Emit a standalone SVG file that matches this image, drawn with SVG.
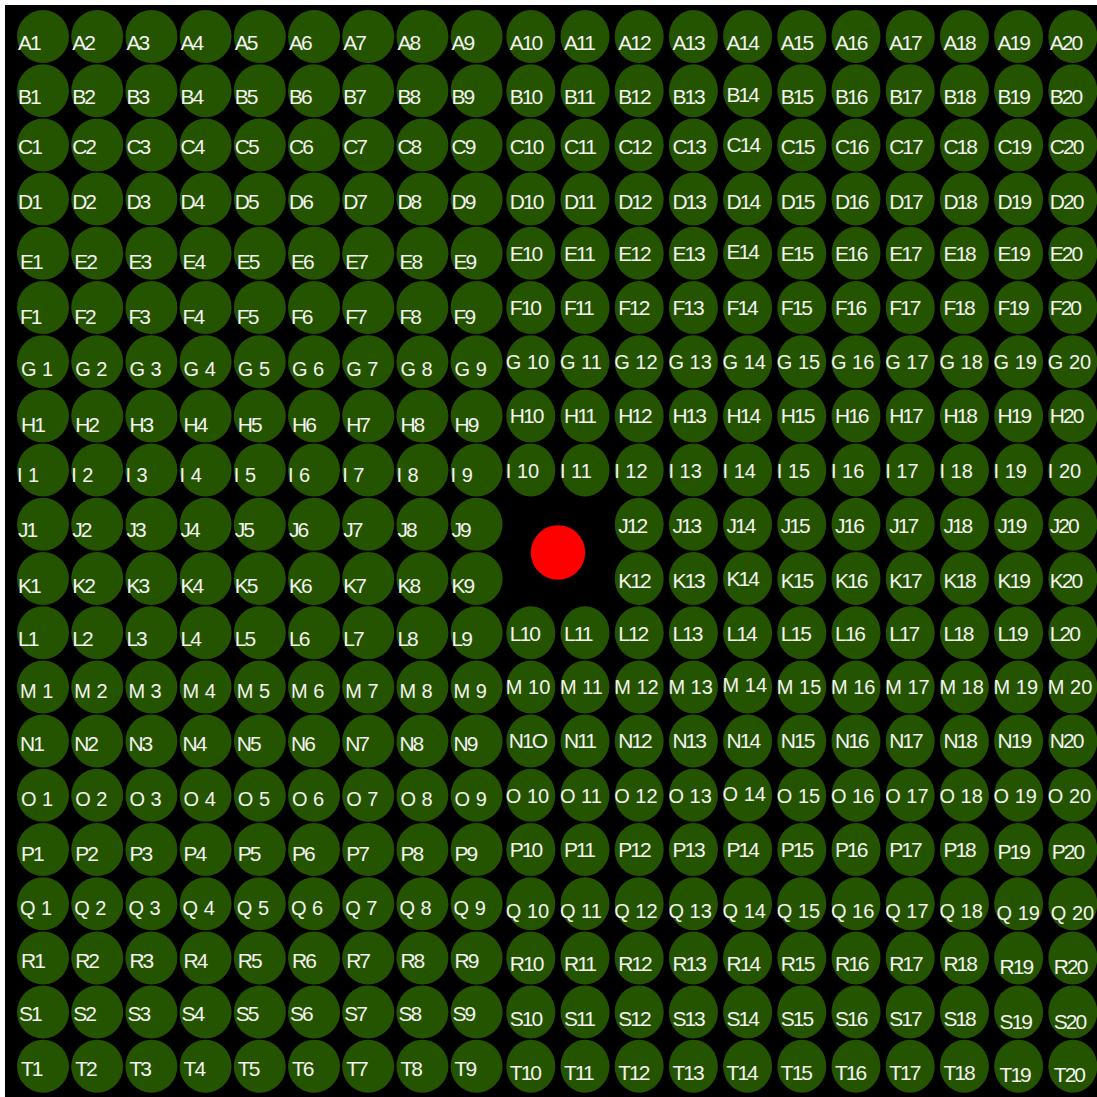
<svg xmlns="http://www.w3.org/2000/svg" xmlns:xlink="http://www.w3.org/1999/xlink" width="1097" height="1097" viewBox="0 0 1097 1097">
<style>
.c{fill:#255400}
text{font-family:"Liberation Sans",Arial,sans-serif;font-size:21px;letter-spacing:-2px;fill:#f2f2f2}
text.s{font-size:20px;letter-spacing:0}
</style>
<defs>
<ellipse id="L" class="c" rx="26" ry="26.5"/>
<ellipse id="R" class="c" rx="24.5" ry="26.5"/>
</defs>
<rect x="0" y="0" width="1097" height="1097" fill="#ffffff"/>
<rect x="5" y="5" width="1092" height="1092" fill="#000000"/>
<g id="connectors"></g>
<g id="rowA">
<g id="A1" transform="translate(43 36.5)"><use href="#L"/><text x="-25" y="13.5">A1</text></g>
<g id="A2" transform="translate(97.2 36.5)"><use href="#L"/><text x="-25" y="13.5">A2</text></g>
<g id="A3" transform="translate(151.4 36.5)"><use href="#L"/><text x="-25" y="13.5">A3</text></g>
<g id="A4" transform="translate(205.6 36.5)"><use href="#L"/><text x="-25" y="13.5">A4</text></g>
<g id="A5" transform="translate(259.8 36.5)"><use href="#L"/><text x="-25" y="13.5">A5</text></g>
<g id="A6" transform="translate(314 36.5)"><use href="#L"/><text x="-25" y="13.5">A6</text></g>
<g id="A7" transform="translate(368.2 36.5)"><use href="#L"/><text x="-25" y="13.5">A7</text></g>
<g id="A8" transform="translate(422.4 36.5)"><use href="#L"/><text x="-25" y="13.5">A8</text></g>
<g id="A9" transform="translate(476.6 36.5)"><use href="#L"/><text x="-25" y="13.5">A9</text></g>
<g id="A10" transform="translate(530.8 36.5)"><use href="#R"/><text x="-21" y="13.5">A10</text></g>
<g id="A11" transform="translate(585 36.5)"><use href="#R"/><text x="-21" y="13.5">A11</text></g>
<g id="A12" transform="translate(639.2 36.5)"><use href="#R"/><text x="-21" y="13.5">A12</text></g>
<g id="A13" transform="translate(693.4 36.5)"><use href="#R"/><text x="-21" y="13.5">A13</text></g>
<g id="A14" transform="translate(747.6 36.5)"><use href="#R"/><text x="-21" y="13.5">A14</text></g>
<g id="A15" transform="translate(801.8 36.5)"><use href="#R"/><text x="-21" y="13.5">A15</text></g>
<g id="A16" transform="translate(856 36.5)"><use href="#R"/><text x="-21" y="13.5">A16</text></g>
<g id="A17" transform="translate(910.2 36.5)"><use href="#R"/><text x="-21" y="13.5">A17</text></g>
<g id="A18" transform="translate(964.4 36.5)"><use href="#R"/><text x="-21" y="13.5">A18</text></g>
<g id="A19" transform="translate(1018.6 36.5)"><use href="#R"/><text x="-21" y="13.5">A19</text></g>
<g id="A20" transform="translate(1072.8 36.5)"><use href="#R"/><text x="-23" y="13.5">A20</text></g>
</g>
<g id="rowB">
<g id="B1" transform="translate(43 90.7)"><use href="#L"/><text x="-25" y="13.3">B1</text></g>
<g id="B2" transform="translate(97.2 90.7)"><use href="#L"/><text x="-25" y="13.3">B2</text></g>
<g id="B3" transform="translate(151.4 90.7)"><use href="#L"/><text x="-25" y="13.3">B3</text></g>
<g id="B4" transform="translate(205.6 90.7)"><use href="#L"/><text x="-25" y="13.3">B4</text></g>
<g id="B5" transform="translate(259.8 90.7)"><use href="#L"/><text x="-25" y="13.3">B5</text></g>
<g id="B6" transform="translate(314 90.7)"><use href="#L"/><text x="-25" y="13.3">B6</text></g>
<g id="B7" transform="translate(368.2 90.7)"><use href="#L"/><text x="-25" y="13.3">B7</text></g>
<g id="B8" transform="translate(422.4 90.7)"><use href="#L"/><text x="-25" y="13.3">B8</text></g>
<g id="B9" transform="translate(476.6 90.7)"><use href="#L"/><text x="-25" y="13.3">B9</text></g>
<g id="B10" transform="translate(530.8 90.7)"><use href="#R"/><text x="-21" y="13">B10</text></g>
<g id="B11" transform="translate(585 90.7)"><use href="#R"/><text x="-21" y="13">B11</text></g>
<g id="B12" transform="translate(639.2 90.7)"><use href="#R"/><text x="-21" y="13">B12</text></g>
<g id="B13" transform="translate(693.4 90.7)"><use href="#R"/><text x="-21" y="13">B13</text></g>
<g id="B14" transform="translate(747.6 90.7)"><use href="#R"/><text x="-21" y="11">B14</text></g>
<g id="B15" transform="translate(801.8 90.7)"><use href="#R"/><text x="-21" y="13">B15</text></g>
<g id="B16" transform="translate(856 90.7)"><use href="#R"/><text x="-21" y="13">B16</text></g>
<g id="B17" transform="translate(910.2 90.7)"><use href="#R"/><text x="-21" y="13">B17</text></g>
<g id="B18" transform="translate(964.4 90.7)"><use href="#R"/><text x="-21" y="13">B18</text></g>
<g id="B19" transform="translate(1018.6 90.7)"><use href="#R"/><text x="-21" y="13">B19</text></g>
<g id="B20" transform="translate(1072.8 90.7)"><use href="#R"/><text x="-23" y="13">B20</text></g>
</g>
<g id="rowC">
<g id="C1" transform="translate(43 144.9)"><use href="#L"/><text x="-25" y="9.5">C1</text></g>
<g id="C2" transform="translate(97.2 144.9)"><use href="#L"/><text x="-25" y="9.5">C2</text></g>
<g id="C3" transform="translate(151.4 144.9)"><use href="#L"/><text x="-25" y="9.5">C3</text></g>
<g id="C4" transform="translate(205.6 144.9)"><use href="#L"/><text x="-25" y="9.5">C4</text></g>
<g id="C5" transform="translate(259.8 144.9)"><use href="#L"/><text x="-25" y="9.5">C5</text></g>
<g id="C6" transform="translate(314 144.9)"><use href="#L"/><text x="-25" y="9.5">C6</text></g>
<g id="C7" transform="translate(368.2 144.9)"><use href="#L"/><text x="-25" y="9.5">C7</text></g>
<g id="C8" transform="translate(422.4 144.9)"><use href="#L"/><text x="-25" y="9.5">C8</text></g>
<g id="C9" transform="translate(476.6 144.9)"><use href="#L"/><text x="-25" y="9.5">C9</text></g>
<g id="C10" transform="translate(530.8 144.9)"><use href="#R"/><text x="-21" y="9.5">C10</text></g>
<g id="C11" transform="translate(585 144.9)"><use href="#R"/><text x="-21" y="9.5">C11</text></g>
<g id="C12" transform="translate(639.2 144.9)"><use href="#R"/><text x="-21" y="9.5">C12</text></g>
<g id="C13" transform="translate(693.4 144.9)"><use href="#R"/><text x="-21" y="9.5">C13</text></g>
<g id="C14" transform="translate(747.6 144.9)"><use href="#R"/><text x="-21" y="7.5">C14</text></g>
<g id="C15" transform="translate(801.8 144.9)"><use href="#R"/><text x="-21" y="9.5">C15</text></g>
<g id="C16" transform="translate(856 144.9)"><use href="#R"/><text x="-21" y="9.5">C16</text></g>
<g id="C17" transform="translate(910.2 144.9)"><use href="#R"/><text x="-21" y="9.5">C17</text></g>
<g id="C18" transform="translate(964.4 144.9)"><use href="#R"/><text x="-21" y="9.5">C18</text></g>
<g id="C19" transform="translate(1018.6 144.9)"><use href="#R"/><text x="-21" y="9.5">C19</text></g>
<g id="C20" transform="translate(1072.8 144.9)"><use href="#R"/><text x="-23" y="9.5">C20</text></g>
</g>
<g id="rowD">
<g id="D1" transform="translate(43 199.1)"><use href="#L"/><text x="-25" y="9.4">D1</text></g>
<g id="D2" transform="translate(97.2 199.1)"><use href="#L"/><text x="-25" y="9.4">D2</text></g>
<g id="D3" transform="translate(151.4 199.1)"><use href="#L"/><text x="-25" y="9.4">D3</text></g>
<g id="D4" transform="translate(205.6 199.1)"><use href="#L"/><text x="-25" y="9.4">D4</text></g>
<g id="D5" transform="translate(259.8 199.1)"><use href="#L"/><text x="-25" y="9.4">D5</text></g>
<g id="D6" transform="translate(314 199.1)"><use href="#L"/><text x="-25" y="9.4">D6</text></g>
<g id="D7" transform="translate(368.2 199.1)"><use href="#L"/><text x="-25" y="9.4">D7</text></g>
<g id="D8" transform="translate(422.4 199.1)"><use href="#L"/><text x="-25" y="9.4">D8</text></g>
<g id="D9" transform="translate(476.6 199.1)"><use href="#L"/><text x="-25" y="9.4">D9</text></g>
<g id="D10" transform="translate(530.8 199.1)"><use href="#R"/><text x="-21" y="9.4">D10</text></g>
<g id="D11" transform="translate(585 199.1)"><use href="#R"/><text x="-21" y="9.4">D11</text></g>
<g id="D12" transform="translate(639.2 199.1)"><use href="#R"/><text x="-21" y="9.4">D12</text></g>
<g id="D13" transform="translate(693.4 199.1)"><use href="#R"/><text x="-21" y="9.4">D13</text></g>
<g id="D14" transform="translate(747.6 199.1)"><use href="#R"/><text x="-21" y="9.4">D14</text></g>
<g id="D15" transform="translate(801.8 199.1)"><use href="#R"/><text x="-21" y="9.4">D15</text></g>
<g id="D16" transform="translate(856 199.1)"><use href="#R"/><text x="-21" y="9.4">D16</text></g>
<g id="D17" transform="translate(910.2 199.1)"><use href="#R"/><text x="-21" y="9.4">D17</text></g>
<g id="D18" transform="translate(964.4 199.1)"><use href="#R"/><text x="-21" y="9.4">D18</text></g>
<g id="D19" transform="translate(1018.6 199.1)"><use href="#R"/><text x="-21" y="9.4">D19</text></g>
<g id="D20" transform="translate(1072.8 199.1)"><use href="#R"/><text x="-23" y="9.4">D20</text></g>
</g>
<g id="rowE">
<g id="E1" transform="translate(43 253.3)"><use href="#L"/><text x="-23" y="15.7">E1</text></g>
<g id="E2" transform="translate(97.2 253.3)"><use href="#L"/><text x="-23" y="15.7">E2</text></g>
<g id="E3" transform="translate(151.4 253.3)"><use href="#L"/><text x="-23" y="15.7">E3</text></g>
<g id="E4" transform="translate(205.6 253.3)"><use href="#L"/><text x="-23" y="15.7">E4</text></g>
<g id="E5" transform="translate(259.8 253.3)"><use href="#L"/><text x="-23" y="15.7">E5</text></g>
<g id="E6" transform="translate(314 253.3)"><use href="#L"/><text x="-23" y="15.7">E6</text></g>
<g id="E7" transform="translate(368.2 253.3)"><use href="#L"/><text x="-23" y="15.7">E7</text></g>
<g id="E8" transform="translate(422.4 253.3)"><use href="#L"/><text x="-23" y="15.7">E8</text></g>
<g id="E9" transform="translate(476.6 253.3)"><use href="#L"/><text x="-23" y="15.7">E9</text></g>
<g id="E10" transform="translate(530.8 253.3)"><use href="#R"/><text x="-21" y="7.7">E10</text></g>
<g id="E11" transform="translate(585 253.3)"><use href="#R"/><text x="-21" y="7.7">E11</text></g>
<g id="E12" transform="translate(639.2 253.3)"><use href="#R"/><text x="-21" y="7.7">E12</text></g>
<g id="E13" transform="translate(693.4 253.3)"><use href="#R"/><text x="-21" y="7.7">E13</text></g>
<g id="E14" transform="translate(747.6 253.3)"><use href="#R"/><text x="-21" y="5.5">E14</text></g>
<g id="E15" transform="translate(801.8 253.3)"><use href="#R"/><text x="-21" y="7.7">E15</text></g>
<g id="E16" transform="translate(856 253.3)"><use href="#R"/><text x="-21" y="7.7">E16</text></g>
<g id="E17" transform="translate(910.2 253.3)"><use href="#R"/><text x="-21" y="7.7">E17</text></g>
<g id="E18" transform="translate(964.4 253.3)"><use href="#R"/><text x="-21" y="7.7">E18</text></g>
<g id="E19" transform="translate(1018.6 253.3)"><use href="#R"/><text x="-21" y="7.7">E19</text></g>
<g id="E20" transform="translate(1072.8 253.3)"><use href="#R"/><text x="-23" y="7.7">E20</text></g>
</g>
<g id="rowF">
<g id="F1" transform="translate(43 307.5)"><use href="#L"/><text x="-23" y="16">F1</text></g>
<g id="F2" transform="translate(97.2 307.5)"><use href="#L"/><text x="-23" y="16">F2</text></g>
<g id="F3" transform="translate(151.4 307.5)"><use href="#L"/><text x="-23" y="16">F3</text></g>
<g id="F4" transform="translate(205.6 307.5)"><use href="#L"/><text x="-23" y="16">F4</text></g>
<g id="F5" transform="translate(259.8 307.5)"><use href="#L"/><text x="-23" y="16">F5</text></g>
<g id="F6" transform="translate(314 307.5)"><use href="#L"/><text x="-23" y="16">F6</text></g>
<g id="F7" transform="translate(368.2 307.5)"><use href="#L"/><text x="-23" y="16">F7</text></g>
<g id="F8" transform="translate(422.4 307.5)"><use href="#L"/><text x="-23" y="16">F8</text></g>
<g id="F9" transform="translate(476.6 307.5)"><use href="#L"/><text x="-23" y="16">F9</text></g>
<g id="F10" transform="translate(530.8 307.5)"><use href="#R"/><text x="-21" y="7">F10</text></g>
<g id="F11" transform="translate(585 307.5)"><use href="#R"/><text x="-21" y="7">F11</text></g>
<g id="F12" transform="translate(639.2 307.5)"><use href="#R"/><text x="-21" y="7">F12</text></g>
<g id="F13" transform="translate(693.4 307.5)"><use href="#R"/><text x="-21" y="7">F13</text></g>
<g id="F14" transform="translate(747.6 307.5)"><use href="#R"/><text x="-21" y="7">F14</text></g>
<g id="F15" transform="translate(801.8 307.5)"><use href="#R"/><text x="-21" y="7">F15</text></g>
<g id="F16" transform="translate(856 307.5)"><use href="#R"/><text x="-21" y="7">F16</text></g>
<g id="F17" transform="translate(910.2 307.5)"><use href="#R"/><text x="-21" y="7">F17</text></g>
<g id="F18" transform="translate(964.4 307.5)"><use href="#R"/><text x="-21" y="7">F18</text></g>
<g id="F19" transform="translate(1018.6 307.5)"><use href="#R"/><text x="-21" y="7">F19</text></g>
<g id="F20" transform="translate(1072.8 307.5)"><use href="#R"/><text x="-23" y="7">F20</text></g>
</g>
<g id="rowG">
<g id="G1" transform="translate(43 361.7)"><use href="#L"/><text class="s" x="-22" y="14.3">G 1</text></g>
<g id="G2" transform="translate(97.2 361.7)"><use href="#L"/><text class="s" x="-22" y="14.3">G 2</text></g>
<g id="G3" transform="translate(151.4 361.7)"><use href="#L"/><text class="s" x="-22" y="14.3">G 3</text></g>
<g id="G4" transform="translate(205.6 361.7)"><use href="#L"/><text class="s" x="-22" y="14.3">G 4</text></g>
<g id="G5" transform="translate(259.8 361.7)"><use href="#L"/><text class="s" x="-22" y="14.3">G 5</text></g>
<g id="G6" transform="translate(314 361.7)"><use href="#L"/><text class="s" x="-22" y="14.3">G 6</text></g>
<g id="G7" transform="translate(368.2 361.7)"><use href="#L"/><text class="s" x="-22" y="14.3">G 7</text></g>
<g id="G8" transform="translate(422.4 361.7)"><use href="#L"/><text class="s" x="-22" y="14.3">G 8</text></g>
<g id="G9" transform="translate(476.6 361.7)"><use href="#L"/><text class="s" x="-22" y="14.3">G 9</text></g>
<g id="G10" transform="translate(530.8 361.7)"><use href="#R"/><text class="s" x="-25" y="7.3">G 10</text></g>
<g id="G11" transform="translate(585 361.7)"><use href="#R"/><text class="s" x="-25" y="7.3">G 11</text></g>
<g id="G12" transform="translate(639.2 361.7)"><use href="#R"/><text class="s" x="-25" y="7.3">G 12</text></g>
<g id="G13" transform="translate(693.4 361.7)"><use href="#R"/><text class="s" x="-25" y="7.3">G 13</text></g>
<g id="G14" transform="translate(747.6 361.7)"><use href="#R"/><text class="s" x="-25" y="7.3">G 14</text></g>
<g id="G15" transform="translate(801.8 361.7)"><use href="#R"/><text class="s" x="-25" y="7.3">G 15</text></g>
<g id="G16" transform="translate(856 361.7)"><use href="#R"/><text class="s" x="-25" y="7.3">G 16</text></g>
<g id="G17" transform="translate(910.2 361.7)"><use href="#R"/><text class="s" x="-25" y="7.3">G 17</text></g>
<g id="G18" transform="translate(964.4 361.7)"><use href="#R"/><text class="s" x="-25" y="7.3">G 18</text></g>
<g id="G19" transform="translate(1018.6 361.7)"><use href="#R"/><text class="s" x="-25" y="7.3">G 19</text></g>
<g id="G20" transform="translate(1072.8 361.7)"><use href="#R"/><text class="s" x="-25" y="7.3">G 20</text></g>
</g>
<g id="rowH">
<g id="H1" transform="translate(43 415.9)"><use href="#L"/><text x="-22" y="15.6">H1</text></g>
<g id="H2" transform="translate(97.2 415.9)"><use href="#L"/><text x="-22" y="15.6">H2</text></g>
<g id="H3" transform="translate(151.4 415.9)"><use href="#L"/><text x="-22" y="15.6">H3</text></g>
<g id="H4" transform="translate(205.6 415.9)"><use href="#L"/><text x="-22" y="15.6">H4</text></g>
<g id="H5" transform="translate(259.8 415.9)"><use href="#L"/><text x="-22" y="15.6">H5</text></g>
<g id="H6" transform="translate(314 415.9)"><use href="#L"/><text x="-22" y="15.6">H6</text></g>
<g id="H7" transform="translate(368.2 415.9)"><use href="#L"/><text x="-22" y="15.6">H7</text></g>
<g id="H8" transform="translate(422.4 415.9)"><use href="#L"/><text x="-22" y="15.6">H8</text></g>
<g id="H9" transform="translate(476.6 415.9)"><use href="#L"/><text x="-22" y="15.6">H9</text></g>
<g id="H10" transform="translate(530.8 415.9)"><use href="#R"/><text x="-21" y="6.6">H10</text></g>
<g id="H11" transform="translate(585 415.9)"><use href="#R"/><text x="-21" y="6.6">H11</text></g>
<g id="H12" transform="translate(639.2 415.9)"><use href="#R"/><text x="-21" y="6.6">H12</text></g>
<g id="H13" transform="translate(693.4 415.9)"><use href="#R"/><text x="-21" y="6.6">H13</text></g>
<g id="H14" transform="translate(747.6 415.9)"><use href="#R"/><text x="-21" y="6.6">H14</text></g>
<g id="H15" transform="translate(801.8 415.9)"><use href="#R"/><text x="-21" y="6.6">H15</text></g>
<g id="H16" transform="translate(856 415.9)"><use href="#R"/><text x="-21" y="6.6">H16</text></g>
<g id="H17" transform="translate(910.2 415.9)"><use href="#R"/><text x="-21" y="6.6">H17</text></g>
<g id="H18" transform="translate(964.4 415.9)"><use href="#R"/><text x="-21" y="6.6">H18</text></g>
<g id="H19" transform="translate(1018.6 415.9)"><use href="#R"/><text x="-21" y="6.6">H19</text></g>
<g id="H20" transform="translate(1072.8 415.9)"><use href="#R"/><text x="-23" y="6.6">H20</text></g>
</g>
<g id="rowI">
<g id="I1" transform="translate(43 470.1)"><use href="#L"/><text class="s" x="-26" y="11.6">I 1</text></g>
<g id="I2" transform="translate(97.2 470.1)"><use href="#L"/><text class="s" x="-26" y="11.6">I 2</text></g>
<g id="I3" transform="translate(151.4 470.1)"><use href="#L"/><text class="s" x="-26" y="11.6">I 3</text></g>
<g id="I4" transform="translate(205.6 470.1)"><use href="#L"/><text class="s" x="-26" y="11.6">I 4</text></g>
<g id="I5" transform="translate(259.8 470.1)"><use href="#L"/><text class="s" x="-26" y="11.6">I 5</text></g>
<g id="I6" transform="translate(314 470.1)"><use href="#L"/><text class="s" x="-26" y="11.6">I 6</text></g>
<g id="I7" transform="translate(368.2 470.1)"><use href="#L"/><text class="s" x="-26" y="11.6">I 7</text></g>
<g id="I8" transform="translate(422.4 470.1)"><use href="#L"/><text class="s" x="-26" y="11.6">I 8</text></g>
<g id="I9" transform="translate(476.6 470.1)"><use href="#L"/><text class="s" x="-26" y="11.6">I 9</text></g>
<g id="I10" transform="translate(530.8 470.1)"><use href="#R"/><text class="s" x="-25" y="7.9">I 10</text></g>
<g id="I11" transform="translate(585 470.1)"><use href="#R"/><text class="s" x="-25" y="7.9">I 11</text></g>
<g id="I12" transform="translate(639.2 470.1)"><use href="#R"/><text class="s" x="-25" y="7.9">I 12</text></g>
<g id="I13" transform="translate(693.4 470.1)"><use href="#R"/><text class="s" x="-25" y="7.9">I 13</text></g>
<g id="I14" transform="translate(747.6 470.1)"><use href="#R"/><text class="s" x="-25" y="7.9">I 14</text></g>
<g id="I15" transform="translate(801.8 470.1)"><use href="#R"/><text class="s" x="-25" y="7.9">I 15</text></g>
<g id="I16" transform="translate(856 470.1)"><use href="#R"/><text class="s" x="-25" y="7.9">I 16</text></g>
<g id="I17" transform="translate(910.2 470.1)"><use href="#R"/><text class="s" x="-25" y="7.9">I 17</text></g>
<g id="I18" transform="translate(964.4 470.1)"><use href="#R"/><text class="s" x="-25" y="7.9">I 18</text></g>
<g id="I19" transform="translate(1018.6 470.1)"><use href="#R"/><text class="s" x="-25" y="7.9">I 19</text></g>
<g id="I20" transform="translate(1072.8 470.1)"><use href="#R"/><text class="s" x="-25" y="7.9">I 20</text></g>
</g>
<g id="rowJ">
<g id="J1" transform="translate(43 524.3)"><use href="#L"/><text x="-25" y="12.2">J1</text></g>
<g id="J2" transform="translate(97.2 524.3)"><use href="#L"/><text x="-25" y="12.2">J2</text></g>
<g id="J3" transform="translate(151.4 524.3)"><use href="#L"/><text x="-25" y="12.2">J3</text></g>
<g id="J4" transform="translate(205.6 524.3)"><use href="#L"/><text x="-25" y="12.2">J4</text></g>
<g id="J5" transform="translate(259.8 524.3)"><use href="#L"/><text x="-25" y="12.2">J5</text></g>
<g id="J6" transform="translate(314 524.3)"><use href="#L"/><text x="-25" y="12.2">J6</text></g>
<g id="J7" transform="translate(368.2 524.3)"><use href="#L"/><text x="-25" y="12.2">J7</text></g>
<g id="J8" transform="translate(422.4 524.3)"><use href="#L"/><text x="-25" y="12.2">J8</text></g>
<g id="J9" transform="translate(476.6 524.3)"><use href="#L"/><text x="-25" y="12.2">J9</text></g>
<g id="J12" transform="translate(639.2 524.3)"><use href="#R"/><text x="-21" y="8.2">J12</text></g>
<g id="J13" transform="translate(693.4 524.3)"><use href="#R"/><text x="-21" y="8.2">J13</text></g>
<g id="J14" transform="translate(747.6 524.3)"><use href="#R"/><text x="-21" y="8.2">J14</text></g>
<g id="J15" transform="translate(801.8 524.3)"><use href="#R"/><text x="-21" y="8.2">J15</text></g>
<g id="J16" transform="translate(856 524.3)"><use href="#R"/><text x="-21" y="8.2">J16</text></g>
<g id="J17" transform="translate(910.2 524.3)"><use href="#R"/><text x="-21" y="8.2">J17</text></g>
<g id="J18" transform="translate(964.4 524.3)"><use href="#R"/><text x="-21" y="8.2">J18</text></g>
<g id="J19" transform="translate(1018.6 524.3)"><use href="#R"/><text x="-21" y="8.2">J19</text></g>
<g id="J20" transform="translate(1072.8 524.3)"><use href="#R"/><text x="-23" y="8.2">J20</text></g>
</g>
<g id="rowK">
<g id="K1" transform="translate(43 578.5)"><use href="#L"/><text x="-25" y="14">K1</text></g>
<g id="K2" transform="translate(97.2 578.5)"><use href="#L"/><text x="-25" y="14">K2</text></g>
<g id="K3" transform="translate(151.4 578.5)"><use href="#L"/><text x="-25" y="14">K3</text></g>
<g id="K4" transform="translate(205.6 578.5)"><use href="#L"/><text x="-25" y="14">K4</text></g>
<g id="K5" transform="translate(259.8 578.5)"><use href="#L"/><text x="-25" y="14">K5</text></g>
<g id="K6" transform="translate(314 578.5)"><use href="#L"/><text x="-25" y="14">K6</text></g>
<g id="K7" transform="translate(368.2 578.5)"><use href="#L"/><text x="-25" y="14">K7</text></g>
<g id="K8" transform="translate(422.4 578.5)"><use href="#L"/><text x="-25" y="14">K8</text></g>
<g id="K9" transform="translate(476.6 578.5)"><use href="#L"/><text x="-25" y="14">K9</text></g>
<g id="K12" transform="translate(639.2 578.5)"><use href="#R"/><text x="-21" y="9">K12</text></g>
<g id="K13" transform="translate(693.4 578.5)"><use href="#R"/><text x="-21" y="9">K13</text></g>
<g id="K14" transform="translate(747.6 578.5)"><use href="#R"/><text x="-21" y="7">K14</text></g>
<g id="K15" transform="translate(801.8 578.5)"><use href="#R"/><text x="-21" y="9">K15</text></g>
<g id="K16" transform="translate(856 578.5)"><use href="#R"/><text x="-21" y="9">K16</text></g>
<g id="K17" transform="translate(910.2 578.5)"><use href="#R"/><text x="-21" y="9">K17</text></g>
<g id="K18" transform="translate(964.4 578.5)"><use href="#R"/><text x="-21" y="9">K18</text></g>
<g id="K19" transform="translate(1018.6 578.5)"><use href="#R"/><text x="-21" y="9">K19</text></g>
<g id="K20" transform="translate(1072.8 578.5)"><use href="#R"/><text x="-23" y="9">K20</text></g>
</g>
<g id="rowL">
<g id="L1" transform="translate(43 632.7)"><use href="#L"/><text x="-25" y="12.8">L1</text></g>
<g id="L2" transform="translate(97.2 632.7)"><use href="#L"/><text x="-25" y="12.8">L2</text></g>
<g id="L3" transform="translate(151.4 632.7)"><use href="#L"/><text x="-25" y="12.8">L3</text></g>
<g id="L4" transform="translate(205.6 632.7)"><use href="#L"/><text x="-25" y="12.8">L4</text></g>
<g id="L5" transform="translate(259.8 632.7)"><use href="#L"/><text x="-25" y="12.8">L5</text></g>
<g id="L6" transform="translate(314 632.7)"><use href="#L"/><text x="-25" y="12.8">L6</text></g>
<g id="L7" transform="translate(368.2 632.7)"><use href="#L"/><text x="-25" y="12.8">L7</text></g>
<g id="L8" transform="translate(422.4 632.7)"><use href="#L"/><text x="-25" y="12.8">L8</text></g>
<g id="L9" transform="translate(476.6 632.7)"><use href="#L"/><text x="-25" y="12.8">L9</text></g>
<g id="L10" transform="translate(530.8 632.7)"><use href="#R"/><text x="-21" y="8.5">L10</text></g>
<g id="L11" transform="translate(585 632.7)"><use href="#R"/><text x="-21" y="8.5">L11</text></g>
<g id="L12" transform="translate(639.2 632.7)"><use href="#R"/><text x="-21" y="7.8">L12</text></g>
<g id="L13" transform="translate(693.4 632.7)"><use href="#R"/><text x="-21" y="7.8">L13</text></g>
<g id="L14" transform="translate(747.6 632.7)"><use href="#R"/><text x="-21" y="7.8">L14</text></g>
<g id="L15" transform="translate(801.8 632.7)"><use href="#R"/><text x="-21" y="7.8">L15</text></g>
<g id="L16" transform="translate(856 632.7)"><use href="#R"/><text x="-21" y="7.8">L16</text></g>
<g id="L17" transform="translate(910.2 632.7)"><use href="#R"/><text x="-21" y="7.8">L17</text></g>
<g id="L18" transform="translate(964.4 632.7)"><use href="#R"/><text x="-21" y="7.8">L18</text></g>
<g id="L19" transform="translate(1018.6 632.7)"><use href="#R"/><text x="-21" y="7.8">L19</text></g>
<g id="L20" transform="translate(1072.8 632.7)"><use href="#R"/><text x="-23" y="7.8">L20</text></g>
</g>
<g id="rowM">
<g id="M1" transform="translate(43 686.9)"><use href="#L"/><text class="s" x="-23" y="10.6">M 1</text></g>
<g id="M2" transform="translate(97.2 686.9)"><use href="#L"/><text class="s" x="-23" y="10.6">M 2</text></g>
<g id="M3" transform="translate(151.4 686.9)"><use href="#L"/><text class="s" x="-23" y="10.6">M 3</text></g>
<g id="M4" transform="translate(205.6 686.9)"><use href="#L"/><text class="s" x="-23" y="10.6">M 4</text></g>
<g id="M5" transform="translate(259.8 686.9)"><use href="#L"/><text class="s" x="-23" y="10.6">M 5</text></g>
<g id="M6" transform="translate(314 686.9)"><use href="#L"/><text class="s" x="-23" y="10.6">M 6</text></g>
<g id="M7" transform="translate(368.2 686.9)"><use href="#L"/><text class="s" x="-23" y="10.6">M 7</text></g>
<g id="M8" transform="translate(422.4 686.9)"><use href="#L"/><text class="s" x="-23" y="10.6">M 8</text></g>
<g id="M9" transform="translate(476.6 686.9)"><use href="#L"/><text class="s" x="-23" y="10.6">M 9</text></g>
<g id="M10" transform="translate(530.8 686.9)"><use href="#R"/><text class="s" x="-25" y="6.6">M 10</text></g>
<g id="M11" transform="translate(585 686.9)"><use href="#R"/><text class="s" x="-25" y="6.6">M 11</text></g>
<g id="M12" transform="translate(639.2 686.9)"><use href="#R"/><text class="s" x="-25" y="6.6">M 12</text></g>
<g id="M13" transform="translate(693.4 686.9)"><use href="#R"/><text class="s" x="-25" y="6.6">M 13</text></g>
<g id="M14" transform="translate(747.6 686.9)"><use href="#R"/><text class="s" x="-25" y="5">M 14</text></g>
<g id="M15" transform="translate(801.8 686.9)"><use href="#R"/><text class="s" x="-25" y="6.6">M 15</text></g>
<g id="M16" transform="translate(856 686.9)"><use href="#R"/><text class="s" x="-25" y="6.6">M 16</text></g>
<g id="M17" transform="translate(910.2 686.9)"><use href="#R"/><text class="s" x="-25" y="6.6">M 17</text></g>
<g id="M18" transform="translate(964.4 686.9)"><use href="#R"/><text class="s" x="-25" y="6.6">M 18</text></g>
<g id="M19" transform="translate(1018.6 686.9)"><use href="#R"/><text class="s" x="-25" y="6.6">M 19</text></g>
<g id="M20" transform="translate(1072.8 686.9)"><use href="#R"/><text class="s" x="-25" y="6.6">M 20</text></g>
</g>
<g id="rowN">
<g id="N1" transform="translate(43 741.1)"><use href="#L"/><text x="-23" y="9.4">N1</text></g>
<g id="N2" transform="translate(97.2 741.1)"><use href="#L"/><text x="-23" y="9.4">N2</text></g>
<g id="N3" transform="translate(151.4 741.1)"><use href="#L"/><text x="-23" y="9.4">N3</text></g>
<g id="N4" transform="translate(205.6 741.1)"><use href="#L"/><text x="-23" y="9.4">N4</text></g>
<g id="N5" transform="translate(259.8 741.1)"><use href="#L"/><text x="-23" y="9.4">N5</text></g>
<g id="N6" transform="translate(314 741.1)"><use href="#L"/><text x="-23" y="9.4">N6</text></g>
<g id="N7" transform="translate(368.2 741.1)"><use href="#L"/><text x="-23" y="9.4">N7</text></g>
<g id="N8" transform="translate(422.4 741.1)"><use href="#L"/><text x="-23" y="9.4">N8</text></g>
<g id="N9" transform="translate(476.6 741.1)"><use href="#L"/><text x="-23" y="9.4">N9</text></g>
<g id="N10" transform="translate(530.8 741.1)"><use href="#R"/><text x="-22" y="6.4">N1O</text></g>
<g id="N11" transform="translate(585 741.1)"><use href="#R"/><text x="-21" y="6.4">N11</text></g>
<g id="N12" transform="translate(639.2 741.1)"><use href="#R"/><text x="-21" y="6.4">N12</text></g>
<g id="N13" transform="translate(693.4 741.1)"><use href="#R"/><text x="-21" y="6.4">N13</text></g>
<g id="N14" transform="translate(747.6 741.1)"><use href="#R"/><text x="-21" y="6.4">N14</text></g>
<g id="N15" transform="translate(801.8 741.1)"><use href="#R"/><text x="-21" y="6.4">N15</text></g>
<g id="N16" transform="translate(856 741.1)"><use href="#R"/><text x="-21" y="6.4">N16</text></g>
<g id="N17" transform="translate(910.2 741.1)"><use href="#R"/><text x="-21" y="6.4">N17</text></g>
<g id="N18" transform="translate(964.4 741.1)"><use href="#R"/><text x="-21" y="6.4">N18</text></g>
<g id="N19" transform="translate(1018.6 741.1)"><use href="#R"/><text x="-21" y="6.4">N19</text></g>
<g id="N20" transform="translate(1072.8 741.1)"><use href="#R"/><text x="-23" y="6.4">N20</text></g>
</g>
<g id="rowO">
<g id="O1" transform="translate(43 795.3)"><use href="#L"/><text class="s" x="-22" y="10.2">O 1</text></g>
<g id="O2" transform="translate(97.2 795.3)"><use href="#L"/><text class="s" x="-22" y="10.2">O 2</text></g>
<g id="O3" transform="translate(151.4 795.3)"><use href="#L"/><text class="s" x="-22" y="10.2">O 3</text></g>
<g id="O4" transform="translate(205.6 795.3)"><use href="#L"/><text class="s" x="-22" y="10.2">O 4</text></g>
<g id="O5" transform="translate(259.8 795.3)"><use href="#L"/><text class="s" x="-22" y="10.2">O 5</text></g>
<g id="O6" transform="translate(314 795.3)"><use href="#L"/><text class="s" x="-22" y="10.2">O 6</text></g>
<g id="O7" transform="translate(368.2 795.3)"><use href="#L"/><text class="s" x="-22" y="10.2">O 7</text></g>
<g id="O8" transform="translate(422.4 795.3)"><use href="#L"/><text class="s" x="-22" y="10.2">O 8</text></g>
<g id="O9" transform="translate(476.6 795.3)"><use href="#L"/><text class="s" x="-22" y="10.2">O 9</text></g>
<g id="O10" transform="translate(530.8 795.3)"><use href="#R"/><text class="s" x="-25" y="7.2">O 10</text></g>
<g id="O11" transform="translate(585 795.3)"><use href="#R"/><text class="s" x="-25" y="7.2">O 11</text></g>
<g id="O12" transform="translate(639.2 795.3)"><use href="#R"/><text class="s" x="-25" y="7.2">O 12</text></g>
<g id="O13" transform="translate(693.4 795.3)"><use href="#R"/><text class="s" x="-25" y="7.2">O 13</text></g>
<g id="O14" transform="translate(747.6 795.3)"><use href="#R"/><text class="s" x="-25" y="5.5">O 14</text></g>
<g id="O15" transform="translate(801.8 795.3)"><use href="#R"/><text class="s" x="-25" y="7.2">O 15</text></g>
<g id="O16" transform="translate(856 795.3)"><use href="#R"/><text class="s" x="-25" y="7.2">O 16</text></g>
<g id="O17" transform="translate(910.2 795.3)"><use href="#R"/><text class="s" x="-25" y="7.2">O 17</text></g>
<g id="O18" transform="translate(964.4 795.3)"><use href="#R"/><text class="s" x="-25" y="7.2">O 18</text></g>
<g id="O19" transform="translate(1018.6 795.3)"><use href="#R"/><text class="s" x="-25" y="7.2">O 19</text></g>
<g id="O20" transform="translate(1072.8 795.3)"><use href="#R"/><text class="s" x="-25" y="7.2">O 20</text></g>
</g>
<g id="rowP">
<g id="P1" transform="translate(43 849.5)"><use href="#L"/><text x="-22" y="11">P1</text></g>
<g id="P2" transform="translate(97.2 849.5)"><use href="#L"/><text x="-22" y="11">P2</text></g>
<g id="P3" transform="translate(151.4 849.5)"><use href="#L"/><text x="-22" y="11">P3</text></g>
<g id="P4" transform="translate(205.6 849.5)"><use href="#L"/><text x="-22" y="11">P4</text></g>
<g id="P5" transform="translate(259.8 849.5)"><use href="#L"/><text x="-22" y="11">P5</text></g>
<g id="P6" transform="translate(314 849.5)"><use href="#L"/><text x="-22" y="11">P6</text></g>
<g id="P7" transform="translate(368.2 849.5)"><use href="#L"/><text x="-22" y="11">P7</text></g>
<g id="P8" transform="translate(422.4 849.5)"><use href="#L"/><text x="-22" y="11">P8</text></g>
<g id="P9" transform="translate(476.6 849.5)"><use href="#L"/><text x="-22" y="11">P9</text></g>
<g id="P10" transform="translate(530.8 849.5)"><use href="#R"/><text x="-21" y="7">P10</text></g>
<g id="P11" transform="translate(585 849.5)"><use href="#R"/><text x="-21" y="7">P11</text></g>
<g id="P12" transform="translate(639.2 849.5)"><use href="#R"/><text x="-21" y="7">P12</text></g>
<g id="P13" transform="translate(693.4 849.5)"><use href="#R"/><text x="-21" y="7">P13</text></g>
<g id="P14" transform="translate(747.6 849.5)"><use href="#R"/><text x="-21" y="7">P14</text></g>
<g id="P15" transform="translate(801.8 849.5)"><use href="#R"/><text x="-21" y="7">P15</text></g>
<g id="P16" transform="translate(856 849.5)"><use href="#R"/><text x="-21" y="7">P16</text></g>
<g id="P17" transform="translate(910.2 849.5)"><use href="#R"/><text x="-21" y="7">P17</text></g>
<g id="P18" transform="translate(964.4 849.5)"><use href="#R"/><text x="-21" y="7">P18</text></g>
<g id="P19" transform="translate(1018.6 849.5)"><use href="#R"/><text x="-21" y="9">P19</text></g>
<g id="P20" transform="translate(1072.8 849.5)"><use href="#R"/><text x="-21" y="9">P20</text></g>
</g>
<g id="rowQ">
<g id="Q1" transform="translate(43 903.7)"><use href="#L"/><text class="s" x="-23" y="10.8">Q 1</text></g>
<g id="Q2" transform="translate(97.2 903.7)"><use href="#L"/><text class="s" x="-23" y="10.8">Q 2</text></g>
<g id="Q3" transform="translate(151.4 903.7)"><use href="#L"/><text class="s" x="-23" y="10.8">Q 3</text></g>
<g id="Q4" transform="translate(205.6 903.7)"><use href="#L"/><text class="s" x="-23" y="10.8">Q 4</text></g>
<g id="Q5" transform="translate(259.8 903.7)"><use href="#L"/><text class="s" x="-23" y="10.8">Q 5</text></g>
<g id="Q6" transform="translate(314 903.7)"><use href="#L"/><text class="s" x="-23" y="10.8">Q 6</text></g>
<g id="Q7" transform="translate(368.2 903.7)"><use href="#L"/><text class="s" x="-23" y="10.8">Q 7</text></g>
<g id="Q8" transform="translate(422.4 903.7)"><use href="#L"/><text class="s" x="-23" y="10.8">Q 8</text></g>
<g id="Q9" transform="translate(476.6 903.7)"><use href="#L"/><text class="s" x="-23" y="10.8">Q 9</text></g>
<g id="Q10" transform="translate(530.8 903.7)"><use href="#R"/><text class="s" x="-25" y="13.8">Q 10</text></g>
<g id="Q11" transform="translate(585 903.7)"><use href="#R"/><text class="s" x="-25" y="13.8">Q 11</text></g>
<g id="Q12" transform="translate(639.2 903.7)"><use href="#R"/><text class="s" x="-25" y="13.8">Q 12</text></g>
<g id="Q13" transform="translate(693.4 903.7)"><use href="#R"/><text class="s" x="-25" y="13.8">Q 13</text></g>
<g id="Q14" transform="translate(747.6 903.7)"><use href="#R"/><text class="s" x="-25" y="13.8">Q 14</text></g>
<g id="Q15" transform="translate(801.8 903.7)"><use href="#R"/><text class="s" x="-25" y="13.8">Q 15</text></g>
<g id="Q16" transform="translate(856 903.7)"><use href="#R"/><text class="s" x="-25" y="13.8">Q 16</text></g>
<g id="Q17" transform="translate(910.2 903.7)"><use href="#R"/><text class="s" x="-25" y="13.8">Q 17</text></g>
<g id="Q18" transform="translate(964.4 903.7)"><use href="#R"/><text class="s" x="-25" y="13.8">Q 18</text></g>
<g id="Q19" transform="translate(1018.6 903.7)"><use href="#R"/><text class="s" x="-22" y="15.8">Q 19</text></g>
<g id="Q20" transform="translate(1072.8 903.7)"><use href="#R"/><text class="s" x="-22" y="15.8">Q 20</text></g>
</g>
<g id="rowR">
<g id="R1" transform="translate(43 957.9)"><use href="#L"/><text x="-22" y="9.6">R1</text></g>
<g id="R2" transform="translate(97.2 957.9)"><use href="#L"/><text x="-22" y="9.6">R2</text></g>
<g id="R3" transform="translate(151.4 957.9)"><use href="#L"/><text x="-22" y="9.6">R3</text></g>
<g id="R4" transform="translate(205.6 957.9)"><use href="#L"/><text x="-22" y="9.6">R4</text></g>
<g id="R5" transform="translate(259.8 957.9)"><use href="#L"/><text x="-22" y="9.6">R5</text></g>
<g id="R6" transform="translate(314 957.9)"><use href="#L"/><text x="-22" y="9.6">R6</text></g>
<g id="R7" transform="translate(368.2 957.9)"><use href="#L"/><text x="-22" y="9.6">R7</text></g>
<g id="R8" transform="translate(422.4 957.9)"><use href="#L"/><text x="-22" y="9.6">R8</text></g>
<g id="R9" transform="translate(476.6 957.9)"><use href="#L"/><text x="-22" y="9.6">R9</text></g>
<g id="R10" transform="translate(530.8 957.9)"><use href="#R"/><text x="-21" y="12.6">R10</text></g>
<g id="R11" transform="translate(585 957.9)"><use href="#R"/><text x="-21" y="12.6">R11</text></g>
<g id="R12" transform="translate(639.2 957.9)"><use href="#R"/><text x="-21" y="12.6">R12</text></g>
<g id="R13" transform="translate(693.4 957.9)"><use href="#R"/><text x="-21" y="12.6">R13</text></g>
<g id="R14" transform="translate(747.6 957.9)"><use href="#R"/><text x="-21" y="12.6">R14</text></g>
<g id="R15" transform="translate(801.8 957.9)"><use href="#R"/><text x="-21" y="12.6">R15</text></g>
<g id="R16" transform="translate(856 957.9)"><use href="#R"/><text x="-21" y="12.6">R16</text></g>
<g id="R17" transform="translate(910.2 957.9)"><use href="#R"/><text x="-21" y="12.6">R17</text></g>
<g id="R18" transform="translate(964.4 957.9)"><use href="#R"/><text x="-21" y="12.6">R18</text></g>
<g id="R19" transform="translate(1018.6 957.9)"><use href="#R"/><text x="-19" y="15.6">R19</text></g>
<g id="R20" transform="translate(1072.8 957.9)"><use href="#R"/><text x="-19" y="15.6">R20</text></g>
</g>
<g id="rowS">
<g id="S1" transform="translate(43 1012.1)"><use href="#L"/><text x="-24" y="8.4">S1</text></g>
<g id="S2" transform="translate(97.2 1012.1)"><use href="#L"/><text x="-24" y="8.4">S2</text></g>
<g id="S3" transform="translate(151.4 1012.1)"><use href="#L"/><text x="-24" y="8.4">S3</text></g>
<g id="S4" transform="translate(205.6 1012.1)"><use href="#L"/><text x="-24" y="8.4">S4</text></g>
<g id="S5" transform="translate(259.8 1012.1)"><use href="#L"/><text x="-24" y="8.4">S5</text></g>
<g id="S6" transform="translate(314 1012.1)"><use href="#L"/><text x="-24" y="8.4">S6</text></g>
<g id="S7" transform="translate(368.2 1012.1)"><use href="#L"/><text x="-24" y="8.4">S7</text></g>
<g id="S8" transform="translate(422.4 1012.1)"><use href="#L"/><text x="-24" y="8.4">S8</text></g>
<g id="S9" transform="translate(476.6 1012.1)"><use href="#L"/><text x="-24" y="8.4">S9</text></g>
<g id="S10" transform="translate(530.8 1012.1)"><use href="#R"/><text x="-21" y="13.4">S10</text></g>
<g id="S11" transform="translate(585 1012.1)"><use href="#R"/><text x="-21" y="13.4">S11</text></g>
<g id="S12" transform="translate(639.2 1012.1)"><use href="#R"/><text x="-21" y="13.4">S12</text></g>
<g id="S13" transform="translate(693.4 1012.1)"><use href="#R"/><text x="-21" y="13.4">S13</text></g>
<g id="S14" transform="translate(747.6 1012.1)"><use href="#R"/><text x="-21" y="13.4">S14</text></g>
<g id="S15" transform="translate(801.8 1012.1)"><use href="#R"/><text x="-21" y="13.4">S15</text></g>
<g id="S16" transform="translate(856 1012.1)"><use href="#R"/><text x="-21" y="13.4">S16</text></g>
<g id="S17" transform="translate(910.2 1012.1)"><use href="#R"/><text x="-21" y="13.4">S17</text></g>
<g id="S18" transform="translate(964.4 1012.1)"><use href="#R"/><text x="-21" y="13.4">S18</text></g>
<g id="S19" transform="translate(1018.6 1012.1)"><use href="#R"/><text x="-19" y="16.4">S19</text></g>
<g id="S20" transform="translate(1072.8 1012.1)"><use href="#R"/><text x="-19" y="16.4">S20</text></g>
</g>
<g id="rowT">
<g id="T1" transform="translate(43 1066.3)"><use href="#L"/><text x="-22" y="9.2">T1</text></g>
<g id="T2" transform="translate(97.2 1066.3)"><use href="#L"/><text x="-22" y="9.2">T2</text></g>
<g id="T3" transform="translate(151.4 1066.3)"><use href="#L"/><text x="-22" y="9.2">T3</text></g>
<g id="T4" transform="translate(205.6 1066.3)"><use href="#L"/><text x="-22" y="9.2">T4</text></g>
<g id="T5" transform="translate(259.8 1066.3)"><use href="#L"/><text x="-22" y="9.2">T5</text></g>
<g id="T6" transform="translate(314 1066.3)"><use href="#L"/><text x="-22" y="9.2">T6</text></g>
<g id="T7" transform="translate(368.2 1066.3)"><use href="#L"/><text x="-22" y="9.2">T7</text></g>
<g id="T8" transform="translate(422.4 1066.3)"><use href="#L"/><text x="-22" y="9.2">T8</text></g>
<g id="T9" transform="translate(476.6 1066.3)"><use href="#L"/><text x="-22" y="9.2">T9</text></g>
<g id="T10" transform="translate(530.8 1066.3)"><use href="#R"/><text x="-21" y="13.2">T10</text></g>
<g id="T11" transform="translate(585 1066.3)"><use href="#R"/><text x="-21" y="13.2">T11</text></g>
<g id="T12" transform="translate(639.2 1066.3)"><use href="#R"/><text x="-21" y="13.2">T12</text></g>
<g id="T13" transform="translate(693.4 1066.3)"><use href="#R"/><text x="-21" y="13.2">T13</text></g>
<g id="T14" transform="translate(747.6 1066.3)"><use href="#R"/><text x="-21" y="13.2">T14</text></g>
<g id="T15" transform="translate(801.8 1066.3)"><use href="#R"/><text x="-21" y="13.2">T15</text></g>
<g id="T16" transform="translate(856 1066.3)"><use href="#R"/><text x="-21" y="13.2">T16</text></g>
<g id="T17" transform="translate(910.2 1066.3)"><use href="#R"/><text x="-21" y="13.2">T17</text></g>
<g id="T18" transform="translate(964.4 1066.3)"><use href="#R"/><text x="-21" y="13.2">T18</text></g>
<g id="T19" transform="translate(1018.6 1066.3)"><use href="#R"/><text x="-19" y="15.7">T19</text></g>
<g id="T20" transform="translate(1072.8 1066.3)"><use href="#R"/><text x="-19" y="15.7">T20</text></g>
</g>
<g id="center"><circle cx="558" cy="552.5" r="27.2" fill="#ff0000"/></g>
</svg>
